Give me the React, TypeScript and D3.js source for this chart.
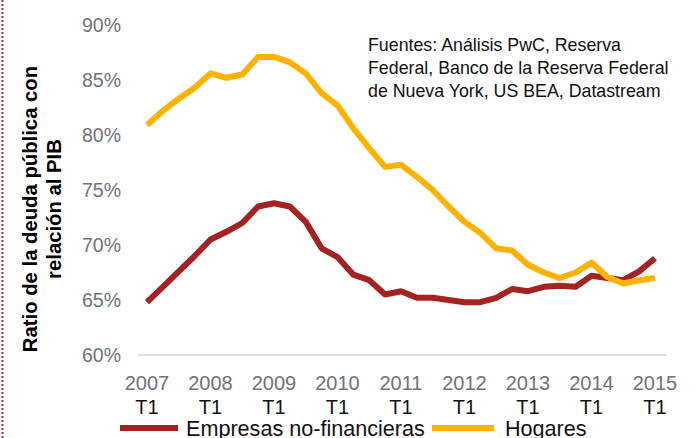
import React from "react";
import * as d3 from "d3";

const years = ["2007", "2008", "2009", "2010", "2011", "2012", "2013", "2014", "2015"];
const quarterLabel = "T1";
const yTicks = [60, 65, 70, 75, 80, 85, 90];

// Quarterly, 2007 T1 .. 2015 T1
const empresas = [
  64.8, 66.2, 67.6, 69.0, 70.5, 71.2, 72.0, 73.5, 73.8, 73.5, 72.1, 69.7,
  68.9, 67.3, 66.8, 65.5, 65.8, 65.2, 65.2, 65.0, 64.8, 64.8, 65.2, 66.0,
  65.8, 66.2, 66.3, 66.2, 67.2, 67.0, 66.8, 67.6, 68.8,
];
const hogares = [
  80.9, 82.2, 83.3, 84.3, 85.6, 85.2, 85.5, 87.1, 87.1, 86.6, 85.6, 83.8,
  82.7, 80.6, 78.8, 77.1, 77.3, 76.2, 75.0, 73.5, 72.1, 71.1, 69.7, 69.5,
  68.2, 67.5, 67.0, 67.5, 68.4, 67.1, 66.5, 66.8, 67.0,
];
const seriesNames = ["Empresas no-financieras", "Hogares"];
const colors = ["#A52222", "#FFB300"];
const sourceLines = [
  "Fuentes: Análisis PwC, Reserva",
  "Federal, Banco de la Reserva Federal",
  "de Nueva York, US BEA, Datastream",
];
const yTitle = ["Ratio de la deuda pública con", "relación al PIB"];

export default function App() {
  const W = 696, H = 438;
  const x = d3.scaleLinear().domain([0, empresas.length - 1]).range([147, 655]);
  const y = d3.scaleLinear().domain([60, 90]).range([355, 25]);
  const line = d3
    .line<number>()
    .x((_, i) => x(i))
    .y((d) => y(d))
    .curve(d3.curveLinear);
  const font = "Arial, 'Liberation Sans', sans-serif";
  return (
    <svg
      width={W}
      height={H}
      style={{ position: "absolute", left: 0, top: 0, background: "#fff" }}
      fontFamily={font}
    >
      <line x1={2.5} x2={2.5} y1={0} y2={H} stroke="#B03030" strokeWidth={2} strokeDasharray="2,2" />
      <line x1={138} x2={667} y1={y(60)} y2={y(60)} stroke="#D9D9D9" strokeWidth={1.5} />
      {yTicks.map((t) => (
        <text key={t} x={121} y={y(t)} dy="0.35em" textAnchor="end" fontSize={19.5} fill="#6F747B">
          {t}%
        </text>
      ))}
      {years.map((yr, k) => (
        <g key={yr}>
          <text x={x(k * 4)} y={383} dy="0.35em" textAnchor="middle" fontSize={20} fill="#6F747B">
            {yr}
          </text>
          <text x={x(k * 4)} y={407} dy="0.35em" textAnchor="middle" fontSize={20} fill="#111">
            {quarterLabel}
          </text>
        </g>
      ))}
      <path d={line(empresas) || ""} fill="none" stroke={colors[0]} strokeWidth={6} strokeLinejoin="round" />
      <path d={line(hogares) || ""} fill="none" stroke={colors[1]} strokeWidth={6} strokeLinejoin="round" />
      <g transform="translate(0,209) rotate(-90)">
        <text x={0} y={30} dy="0.35em" textAnchor="middle" fontSize={20.3} fontWeight="bold" fill="#000">
          {yTitle[0]}
        </text>
        <text x={0} y={54} dy="0.35em" textAnchor="middle" fontSize={20.3} fontWeight="bold" fill="#000">
          {yTitle[1]}
        </text>
      </g>
      {sourceLines.map((s, i) => (
        <text key={i} x={368} y={45 + i * 23} dy="0.35em" fontSize={17.8} fill="#111">
          {s}
        </text>
      ))}
      <line x1={120} x2={178} y1={428} y2={428} stroke={colors[0]} strokeWidth={6} />
      <text x={186} y={428} dy="0.35em" fontSize={21.6} fill="#111">
        {seriesNames[0]}
      </text>
      <line x1={432} x2={494} y1={428} y2={428} stroke={colors[1]} strokeWidth={6} />
      <text x={505} y={428} dy="0.35em" fontSize={21.6} fill="#111">
        {seriesNames[1]}
      </text>
    </svg>
  );
}
